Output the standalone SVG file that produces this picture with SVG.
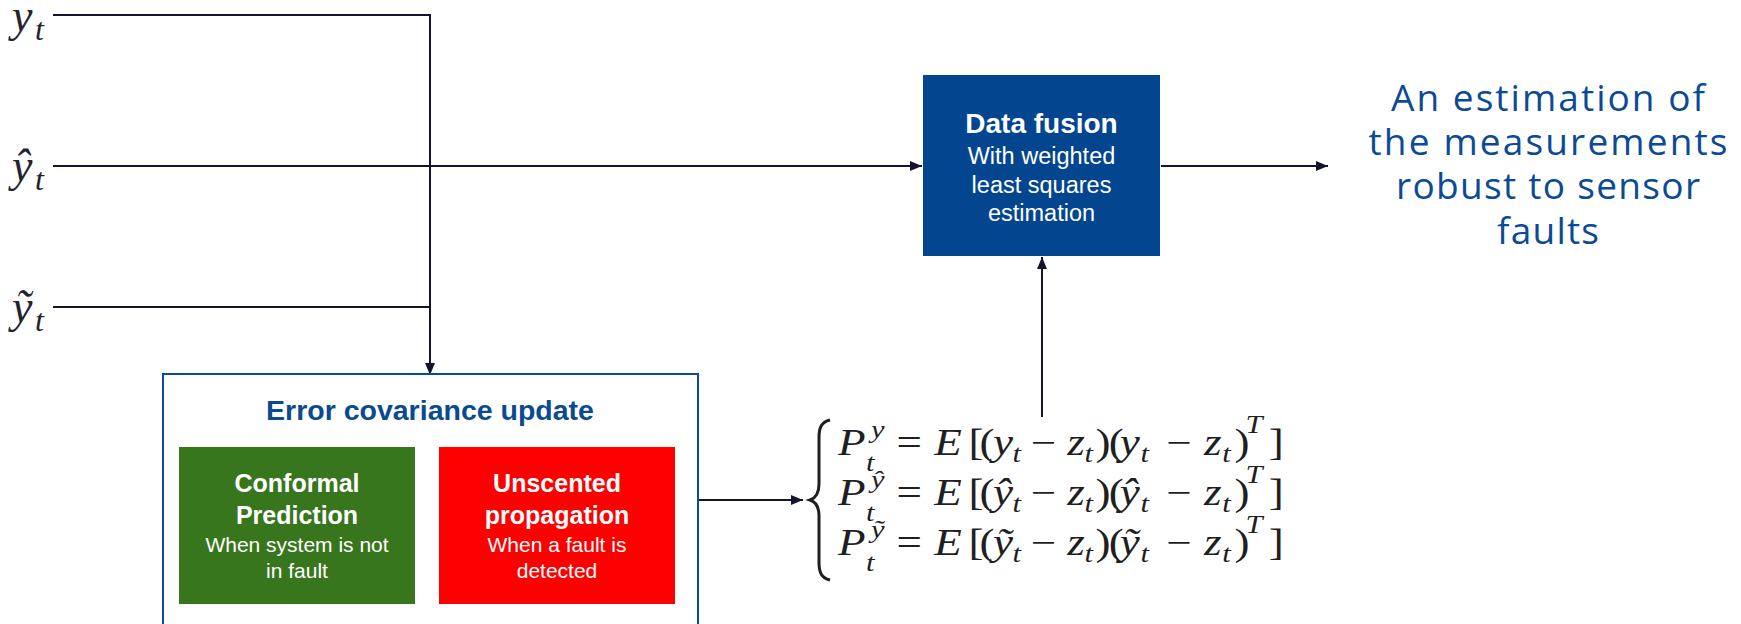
<svg xmlns="http://www.w3.org/2000/svg" width="1741" height="624" viewBox="0 0 1741 624">
<style>
.lbl{font-family:"Liberation Serif","DejaVu Serif",serif;font-style:italic;fill:#23232f}
.eq{font-family:"Liberation Serif","DejaVu Serif",serif;fill:#1f1f1f;font-size:37px}
.mi{font-style:italic}
.sc{font-size:25px}
.sans{font-family:"Liberation Sans",Arial,sans-serif}
.wb{fill:#ffffff;font-weight:bold;text-anchor:middle}
.wr{fill:#ffffff;text-anchor:middle}
.con{fill:none;stroke:#14142b;stroke-width:2}
.out{font-family:"Open Sans","Noto Sans",sans-serif;fill:#0b4a96;font-size:37px;font-weight:500;text-anchor:middle}
</style>
<defs>
<marker id="ah" markerUnits="userSpaceOnUse" markerWidth="12" markerHeight="10" refX="12" refY="5" orient="auto">
<path d="M0,0 L12,5 L0,10 z" fill="#14142b"/>
</marker>
</defs>
<rect width="1741" height="624" fill="#ffffff"/>

<g id="inputs">
<text class="lbl" x="12" y="31" font-size="46">y</text><text class="lbl" x="35" y="40" font-size="32">t</text>
<text class="lbl" x="12" y="181" font-size="46">ŷ</text><text class="lbl" x="35" y="190" font-size="32">t</text>
<text class="lbl" x="12" y="322" font-size="46">ỹ</text><text class="lbl" x="35" y="331" font-size="32">t</text>
</g>

<g id="connectors">
<path class="con" d="M53,15 H430 V375" marker-end="url(#ah)"/>
<path class="con" d="M53,166 H922" marker-end="url(#ah)"/>
<path class="con" d="M53,307 H430"/>
<path class="con" d="M698,500 H803" marker-end="url(#ah)"/>
<path class="con" d="M1042,417 V257" marker-end="url(#ah)"/>
<path class="con" d="M1161,166 H1328" marker-end="url(#ah)"/>
</g>

<g id="data-fusion">
<rect x="923" y="75" width="237" height="181" fill="#03468f"/>
<text class="sans wb" x="1041.5" y="133" font-size="28">Data fusion</text>
<text class="sans wr" x="1041.5" y="164" font-size="23.5">With weighted</text>
<text class="sans wr" x="1041.5" y="193" font-size="23.5">least squares</text>
<text class="sans wr" x="1041.5" y="221" font-size="23.5">estimation</text>
</g>

<g id="output">
<text class="out" x="1548" y="111" textLength="314" lengthAdjust="spacing">An estimation of</text>
<text class="out" x="1548" y="155" textLength="359" lengthAdjust="spacing">the measurements</text>
<text class="out" x="1548" y="199" textLength="304" lengthAdjust="spacing">robust to sensor</text>
<text class="out" x="1548" y="244" textLength="102" lengthAdjust="spacing">faults</text>
</g>

<g id="error-covariance-update">
<rect x="163" y="374" width="535" height="260" fill="#ffffff" stroke="#0b4a9a" stroke-width="2"/>
<text class="sans" x="430" y="420" font-size="28.5" font-weight="bold" fill="#0b4a91" text-anchor="middle">Error covariance update</text>
</g>

<g id="conformal-prediction">
<rect x="179" y="447" width="236" height="157" fill="#38761d"/>
<text class="sans wb" x="297" y="492" font-size="25">Conformal</text>
<text class="sans wb" x="297" y="524" font-size="25">Prediction</text>
<text class="sans wr" x="297" y="552" font-size="21">When system is not</text>
<text class="sans wr" x="297" y="578" font-size="21">in fault</text>
</g>

<g id="unscented-propagation">
<rect x="439" y="447" width="236" height="157" fill="#ff0000"/>
<text class="sans wb" x="557" y="492" font-size="25">Unscented</text>
<text class="sans wb" x="557" y="524" font-size="25">propagation</text>
<text class="sans wr" x="557" y="552" font-size="21">When a fault is</text>
<text class="sans wr" x="557" y="578" font-size="21">detected</text>
</g>

<g id="covariance-equations">
<path d="M830,420 C821,422 819,428 819,438 L819,484 C819,493 816,498 810,500 C816,502 819,507 819,516 L819,562 C819,572 821,578 830,580" fill="none" stroke="#1f1f1f" stroke-width="3"/>
<g transform="matrix(1.22,0,0,1,838,0)">
<text class="eq">
<tspan x="0" y="455" class="mi">P</tspan><tspan x="27" y="438" class="mi sc">y</tspan><tspan x="23" y="471" class="mi sc">t</tspan><tspan x="48" y="455">=</tspan><tspan x="79" y="455" class="mi">E</tspan><tspan x="107" y="455">[</tspan><tspan x="116" y="455">(</tspan><tspan x="127" y="455" class="mi">y</tspan><tspan x="143" y="462" class="mi sc">t</tspan><tspan x="158" y="455">−</tspan><tspan x="188" y="455" class="mi">z</tspan><tspan x="202" y="462" class="mi sc">t</tspan><tspan x="211" y="455">)</tspan><tspan x="222" y="455">(</tspan><tspan x="231" y="455" class="mi">y</tspan><tspan x="248" y="462" class="mi sc">t</tspan><tspan x="269" y="455">−</tspan><tspan x="300" y="455" class="mi">z</tspan><tspan x="315" y="462" class="mi sc">t</tspan><tspan x="325" y="455">)</tspan><tspan x="334" y="433" class="mi sc">T</tspan><tspan x="353" y="455">]</tspan>
</text>
<text class="eq">
<tspan x="0" y="505" class="mi">P</tspan><tspan x="27" y="488" class="mi sc">ŷ</tspan><tspan x="23" y="521" class="mi sc">t</tspan><tspan x="48" y="505">=</tspan><tspan x="79" y="505" class="mi">E</tspan><tspan x="107" y="505">[</tspan><tspan x="116" y="505">(</tspan><tspan x="127" y="505" class="mi">ŷ</tspan><tspan x="143" y="512" class="mi sc">t</tspan><tspan x="158" y="505">−</tspan><tspan x="188" y="505" class="mi">z</tspan><tspan x="202" y="512" class="mi sc">t</tspan><tspan x="211" y="505">)</tspan><tspan x="222" y="505">(</tspan><tspan x="231" y="505" class="mi">ŷ</tspan><tspan x="248" y="512" class="mi sc">t</tspan><tspan x="269" y="505">−</tspan><tspan x="300" y="505" class="mi">z</tspan><tspan x="315" y="512" class="mi sc">t</tspan><tspan x="325" y="505">)</tspan><tspan x="334" y="483" class="mi sc">T</tspan><tspan x="353" y="505">]</tspan>
</text>
<text class="eq">
<tspan x="0" y="555" class="mi">P</tspan><tspan x="27" y="538" class="mi sc">ỹ</tspan><tspan x="23" y="571" class="mi sc">t</tspan><tspan x="48" y="555">=</tspan><tspan x="79" y="555" class="mi">E</tspan><tspan x="107" y="555">[</tspan><tspan x="116" y="555">(</tspan><tspan x="127" y="555" class="mi">ỹ</tspan><tspan x="143" y="562" class="mi sc">t</tspan><tspan x="158" y="555">−</tspan><tspan x="188" y="555" class="mi">z</tspan><tspan x="202" y="562" class="mi sc">t</tspan><tspan x="211" y="555">)</tspan><tspan x="222" y="555">(</tspan><tspan x="231" y="555" class="mi">ỹ</tspan><tspan x="248" y="562" class="mi sc">t</tspan><tspan x="269" y="555">−</tspan><tspan x="300" y="555" class="mi">z</tspan><tspan x="315" y="562" class="mi sc">t</tspan><tspan x="325" y="555">)</tspan><tspan x="334" y="533" class="mi sc">T</tspan><tspan x="353" y="555">]</tspan>
</text>
</g>
</g>
</svg>
